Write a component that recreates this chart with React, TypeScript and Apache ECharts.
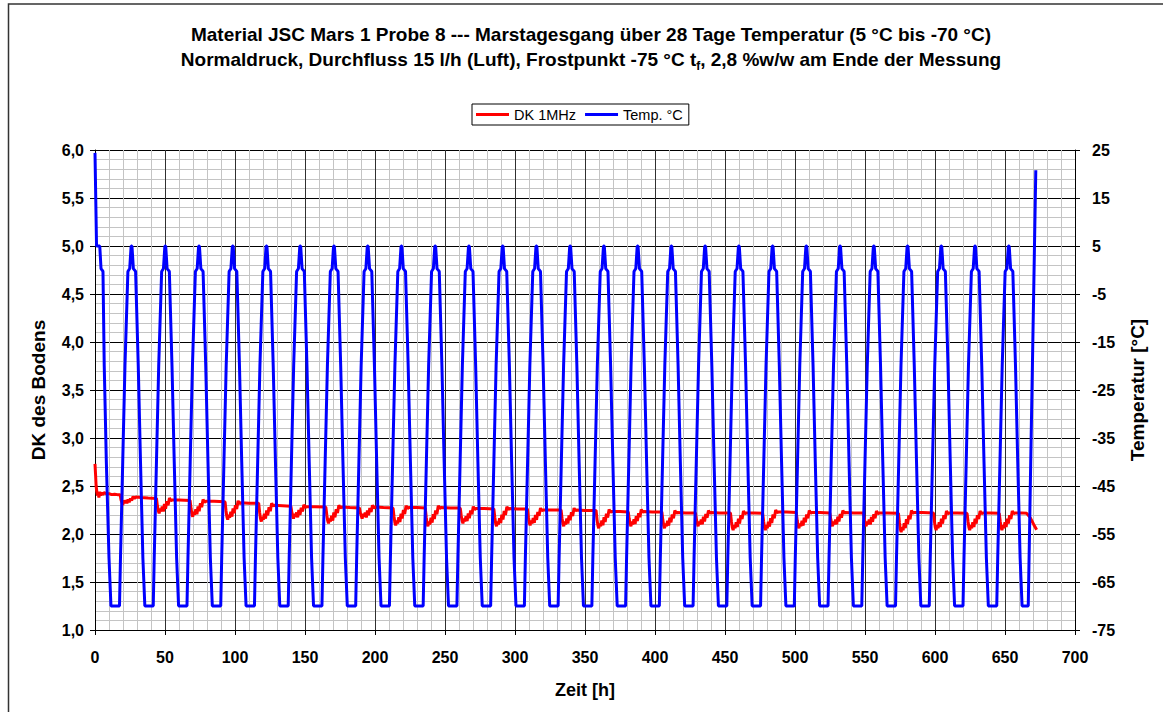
import React, { useEffect, useRef } from "react";
import * as echarts from "echarts";

const FONT = "'Liberation Sans', Arial, sans-serif";

const titleLine1 = "Material JSC Mars 1 Probe 8 --- Marstagesgang über 28 Tage Temperatur (5 °C bis -70 °C)";
const titleLine2 = "Normaldruck, Durchfluss 15 l/h (Luft), Frostpunkt -75 °C t{sub|f}, 2,8 %w/w am Ende der Messung";
const seriesNames = ["DK 1MHz", "Temp. °C"];
const axisNames = ["Zeit [h]", "DK des Bodens", "Temperatur [°C]"];

// DK 1MHz (left axis), [time h, value]
const dkData: number[][] = [
  [0, 2.73], [0.4, 2.62], [0.8, 2.5], [1.3, 2.44], [1.8, 2.4], [2.3, 2.42], [2.8, 2.38], [3.4, 2.44], [4.0, 2.4], [4.6, 2.43], [5.5, 2.41], [6.5, 2.43], [8, 2.42], [10, 2.42], [12, 2.41], [14, 2.415], [16, 2.41],
  [18, 2.41], [18.6, 2.355], [19.2, 2.33], [19.8, 2.3], [20.5, 2.35], [21.2, 2.32], [22.0, 2.35], [22.8, 2.32], [23.6, 2.36], [24.4, 2.33], [25.3, 2.37], [26.2, 2.35], [27.2, 2.39], [28.2, 2.37], [29.2, 2.385], [33, 2.38], [38, 2.375], [43.9, 2.37],
  [44, 2.37], [44.6, 2.29], [45.2, 2.245], [45.8, 2.215], [46.5, 2.265], [47.2, 2.235], [48.0, 2.285], [48.8, 2.235], [49.6, 2.312], [50.4, 2.262], [51.3, 2.34], [52.2, 2.3], [53.2, 2.375], [54.2, 2.345], [55, 2.355], [60, 2.355], [67.9, 2.35],
  [68, 2.35], [68.6, 2.265], [69.2, 2.21], [69.8, 2.18], [70.5, 2.23], [71.2, 2.2], [72.0, 2.256], [72.8, 2.206], [73.6, 2.288], [74.4, 2.238], [75.3, 2.32], [76.2, 2.28], [77.2, 2.36], [78.2, 2.33], [79, 2.34], [85, 2.34], [92.9, 2.335],
  [93, 2.335], [93.6, 2.24], [94.2, 2.18], [94.8, 2.15], [95.5, 2.2], [96.2, 2.17], [97.0, 2.231], [97.8, 2.181], [98.6, 2.266], [99.4, 2.216], [100.3, 2.301], [101.2, 2.261], [102.2, 2.345], [103.2, 2.315], [104, 2.325], [110, 2.32], [116.9, 2.32],
  [117, 2.32], [117.6, 2.225], [118.2, 2.16], [118.8, 2.13], [119.5, 2.18], [120.2, 2.15], [121.0, 2.21], [121.8, 2.16], [122.6, 2.244], [123.4, 2.194], [124.3, 2.278], [125.2, 2.238], [126.2, 2.32], [127.2, 2.29], [128, 2.3], [134, 2.295], [139.9, 2.29],
  [140, 2.29], [140.6, 2.225], [141.2, 2.19], [141.8, 2.16], [142.5, 2.21], [143.2, 2.18], [144.0, 2.224], [144.8, 2.174], [145.6, 2.249], [146.4, 2.199], [147.3, 2.274], [148.2, 2.234], [149.2, 2.305], [150.2, 2.275], [151, 2.285], [157, 2.285], [164.9, 2.28],
  [165, 2.28], [165.6, 2.195], [166.2, 2.14], [166.8, 2.11], [167.5, 2.16], [168.2, 2.13], [169.0, 2.19], [169.8, 2.14], [170.6, 2.224], [171.4, 2.174], [172.3, 2.258], [173.2, 2.218], [174.2, 2.3], [175.2, 2.27], [176, 2.28], [182, 2.275], [188.9, 2.27],
  [189, 2.27], [189.6, 2.215], [190.2, 2.19], [190.8, 2.16], [191.5, 2.21], [192.2, 2.18], [193.0, 2.222], [193.8, 2.172], [194.6, 2.246], [195.4, 2.196], [196.3, 2.27], [197.2, 2.23], [198.2, 2.3], [199.2, 2.27], [200, 2.28], [206, 2.275], [212.9, 2.27],
  [213, 2.27], [213.6, 2.18], [214.2, 2.12], [214.8, 2.09], [215.5, 2.14], [216.2, 2.11], [217.0, 2.175], [217.8, 2.125], [218.6, 2.212], [219.4, 2.162], [220.3, 2.249], [221.2, 2.209], [222.2, 2.295], [223.2, 2.265], [224, 2.275], [230, 2.275], [235.9, 2.27],
  [236, 2.27], [236.6, 2.175], [237.2, 2.11], [237.8, 2.08], [238.5, 2.13], [239.2, 2.1], [240.0, 2.168], [240.8, 2.118], [241.6, 2.207], [242.4, 2.157], [243.3, 2.246], [244.2, 2.206], [245.2, 2.295], [246.2, 2.265], [247, 2.275], [254, 2.27], [260.9, 2.27],
  [261, 2.27], [261.6, 2.19], [262.2, 2.14], [262.8, 2.11], [263.5, 2.16], [264.2, 2.13], [265.0, 2.184], [265.8, 2.134], [266.6, 2.215], [267.4, 2.165], [268.3, 2.246], [269.2, 2.206], [270.2, 2.285], [271.2, 2.255], [272, 2.265], [278, 2.265], [284.9, 2.26],
  [285, 2.26], [285.6, 2.17], [286.2, 2.11], [286.8, 2.08], [287.5, 2.13], [288.2, 2.1], [289.0, 2.165], [289.8, 2.115], [290.6, 2.202], [291.4, 2.152], [292.3, 2.239], [293.2, 2.199], [294.2, 2.285], [295.2, 2.255], [296, 2.265], [302, 2.26], [308.9, 2.26],
  [309, 2.26], [309.6, 2.175], [310.2, 2.12], [310.8, 2.09], [311.5, 2.14], [312.2, 2.11], [313.0, 2.166], [313.8, 2.116], [314.6, 2.198], [315.4, 2.148], [316.3, 2.23], [317.2, 2.19], [318.2, 2.27], [319.2, 2.24], [320, 2.25], [326, 2.25], [332.9, 2.25],
  [333, 2.25], [333.6, 2.165], [334.2, 2.11], [334.8, 2.08], [335.5, 2.13], [336.2, 2.1], [337.0, 2.16], [337.8, 2.11], [338.6, 2.194], [339.4, 2.144], [340.3, 2.228], [341.2, 2.188], [342.2, 2.27], [343.2, 2.24], [344, 2.25], [350, 2.245], [357.9, 2.245],
  [358, 2.245], [358.6, 2.15], [359.2, 2.09], [359.8, 2.06], [360.5, 2.11], [361.2, 2.08], [362.0, 2.141], [362.8, 2.091], [363.6, 2.176], [364.4, 2.126], [365.3, 2.211], [366.2, 2.171], [367.2, 2.255], [368.2, 2.225], [369, 2.235], [375, 2.235], [380.9, 2.23],
  [381, 2.23], [381.6, 2.155], [382.2, 2.11], [382.8, 2.08], [383.5, 2.13], [384.2, 2.1], [385.0, 2.154], [385.8, 2.104], [386.6, 2.185], [387.4, 2.135], [388.3, 2.216], [389.2, 2.176], [390.2, 2.255], [391.2, 2.225], [392, 2.235], [398, 2.23], [404.9, 2.23],
  [405, 2.23], [405.6, 2.145], [406.2, 2.09], [406.8, 2.06], [407.5, 2.11], [408.2, 2.08], [409.0, 2.138], [409.8, 2.088], [410.6, 2.171], [411.4, 2.121], [412.3, 2.204], [413.2, 2.164], [414.2, 2.245], [415.2, 2.215], [416, 2.225], [422, 2.22], [428.9, 2.22],
  [429, 2.22], [429.6, 2.15], [430.2, 2.11], [430.8, 2.08], [431.5, 2.13], [432.2, 2.1], [433.0, 2.151], [433.8, 2.101], [434.6, 2.18], [435.4, 2.13], [436.3, 2.209], [437.2, 2.169], [438.2, 2.245], [439.2, 2.215], [440, 2.225], [446, 2.22], [453.9, 2.22],
  [454, 2.22], [454.6, 2.13], [455.2, 2.07], [455.8, 2.04], [456.5, 2.09], [457.2, 2.06], [458.0, 2.123], [458.8, 2.073], [459.6, 2.159], [460.4, 2.109], [461.3, 2.195], [462.2, 2.155], [463.2, 2.24], [464.2, 2.21], [465, 2.22], [471, 2.22], [476.9, 2.215],
  [477, 2.215], [477.6, 2.13], [478.2, 2.07], [478.8, 2.04], [479.5, 2.09], [480.2, 2.06], [481.0, 2.127], [481.8, 2.077], [482.6, 2.165], [483.4, 2.115], [484.3, 2.203], [485.2, 2.163], [486.2, 2.25], [487.2, 2.22], [488, 2.23], [494, 2.23], [500.9, 2.225],
  [501, 2.225], [501.6, 2.14], [502.2, 2.09], [502.8, 2.06], [503.5, 2.11], [504.2, 2.08], [505.0, 2.138], [505.8, 2.088], [506.6, 2.171], [507.4, 2.121], [508.3, 2.204], [509.2, 2.164], [510.2, 2.245], [511.2, 2.215], [512, 2.225], [518, 2.225], [524.9, 2.22],
  [525, 2.22], [525.6, 2.15], [526.2, 2.11], [526.8, 2.08], [527.5, 2.13], [528.2, 2.1], [529.0, 2.151], [529.8, 2.101], [530.6, 2.18], [531.4, 2.13], [532.3, 2.209], [533.2, 2.169], [534.2, 2.245], [535.2, 2.215], [536, 2.225], [542, 2.22], [548.9, 2.22],
  [549, 2.22], [549.6, 2.15], [550.2, 2.11], [550.8, 2.08], [551.5, 2.13], [552.2, 2.1], [553.0, 2.149], [553.8, 2.099], [554.6, 2.177], [555.4, 2.127], [556.3, 2.205], [557.2, 2.165], [558.2, 2.24], [559.2, 2.21], [560, 2.22], [566, 2.22], [573.9, 2.215],
  [574, 2.215], [574.6, 2.12], [575.2, 2.05], [575.8, 2.02], [576.5, 2.07], [577.2, 2.04], [578.0, 2.112], [578.8, 2.062], [579.6, 2.153], [580.4, 2.103], [581.3, 2.194], [582.2, 2.154], [583.2, 2.245], [584.2, 2.215], [585, 2.225], [591, 2.225], [598.9, 2.22],
  [599, 2.22], [599.6, 2.13], [600.2, 2.07], [600.8, 2.04], [601.5, 2.09], [602.2, 2.06], [603.0, 2.123], [603.8, 2.073], [604.6, 2.159], [605.4, 2.109], [606.3, 2.195], [607.2, 2.155], [608.2, 2.24], [609.2, 2.21], [610, 2.22], [616, 2.22], [622.9, 2.215],
  [623, 2.215], [623.6, 2.13], [624.2, 2.07], [624.8, 2.04], [625.5, 2.09], [626.2, 2.06], [627.0, 2.123], [627.8, 2.073], [628.6, 2.159], [629.4, 2.109], [630.3, 2.195], [631.2, 2.155], [632.2, 2.24], [633.2, 2.21], [634, 2.22], [640, 2.22], [645.9, 2.215],
  [646, 2.215], [646.6, 2.13], [647.2, 2.07], [647.8, 2.04], [648.5, 2.09], [649.2, 2.06], [650.0, 2.123], [650.8, 2.073], [651.6, 2.159], [652.4, 2.109], [653.3, 2.195], [654.2, 2.155], [655.2, 2.24], [656.2, 2.21], [657, 2.22], [662, 2.22], [665.5, 2.215],
  [668, 2.17], [670.5, 2.1], [672.6, 2.045],
];

// Temperature (right axis): start of the run, daily peaks, the profile around each peak, end
const tempStart: number[][] = [[0, 24.4], [1.1, 5], [3.4, 5], [4.3, 0.3], [5.7, -0.3], [6.6, -20], [8.1, -40], [10.0, -60], [11.4, -70]];
const tempPeakTimes = [26.1, 50.2, 74.3, 98.4, 122.5, 146.6, 170.7, 194.8, 218.9, 243.0, 267.1, 291.2, 315.3, 339.4, 363.5, 387.6, 411.7, 435.8, 459.9, 484.0, 508.1, 532.2, 556.3, 580.4, 604.5, 628.6, 652.7];
const tempProfileOffsets = [-8.6, -7.9, -6.3, -4.7, -2.6, -1.3, -0.3, 0.3, 1.3, 2.9, 4.8, 6.4, 8.1, 9.5];
const tempProfileValues = [-70, -60, -40, -20, -0.3, 0.3, 5, 5, 0.3, -0.3, -20, -40, -60, -70];
const tempEnd: number[][] = [[666.6, -70], [672, 20.8]];

const xTicks = { min: 0, max: 700, interval: 50 };
const leftTicks = { min: 1, max: 6, interval: 0.5 };
const rightTicks = { min: -75, max: 25, interval: 10 };

function buildTemp(): number[][] {
  const out: number[][] = tempStart.map((p) => [p[0], p[1]]);
  tempPeakTimes.forEach((pk) => {
    tempProfileOffsets.forEach((o, i) => {
      out.push([+(pk + o).toFixed(2), tempProfileValues[i]]);
    });
  });
  tempEnd.forEach((p) => out.push([p[0], p[1]]));
  return out;
}

export default function App() {
  const ref = useRef<HTMLDivElement>(null);
  useEffect(() => {
    if (!ref.current) return;
    const chart = echarts.init(ref.current, undefined, { renderer: "svg" });
    const labelStyle = { fontFamily: FONT, fontSize: 16, fontWeight: "bold" as const, color: "#000" };
    chart.setOption({
      animation: false,
      backgroundColor: "#fff",
      title: {
        left: 586,
        top: 17,
        textAlign: "center",
        text: titleLine1 + "\n" + titleLine2,
        textStyle: {
          fontFamily: FONT,
          fontSize: 19,
          fontWeight: "bold",
          color: "#000",
          lineHeight: 25,
          rich: {
            sub: { fontFamily: FONT, fontSize: 12, fontWeight: "bold", color: "#000", verticalAlign: "bottom", lineHeight: 25, padding: [10, 0, 0, 0] },
          },
        },
      },
      legend: {
        top: 104,
        left: 472,
        data: seriesNames,
        icon: "rect",
        itemWidth: 33,
        itemHeight: 3,
        itemGap: 9,
        padding: [3, 6, 3, 4],
        borderColor: "#000",
        borderWidth: 1,
        borderRadius: 0,
        textStyle: { fontFamily: FONT, fontSize: 14.5, color: "#000" },
      },
      grid: { left: 95, right: 88, top: 150, bottom: 82 },
      xAxis: {
        type: "value",
        ...xTicks,
        axisLine: { show: true, onZero: false, lineStyle: { color: "#000", width: 1 } },
        axisTick: { show: true, length: 5, lineStyle: { color: "#000" } },
        axisLabel: { ...labelStyle, margin: 19 },
        splitLine: { show: true, lineStyle: { color: "#303030", width: 1 } },
        minorTick: { show: false, splitNumber: 5 },
        minorSplitLine: { show: true, lineStyle: { color: "#c4c4c4", width: 1 } },
      },
      yAxis: [
        {
          type: "value",
          ...leftTicks,
          position: "left",
          axisLine: { show: true, onZero: false, lineStyle: { color: "#000", width: 1 } },
          axisTick: { show: true, length: 5, lineStyle: { color: "#000" } },
          axisLabel: { ...labelStyle, margin: 11, formatter: (v: number) => v.toFixed(1).replace(".", ",") },
          splitLine: { show: true, lineStyle: { color: "#000", width: 1 } },
          minorTick: { show: false, splitNumber: 5 },
          minorSplitLine: { show: true, lineStyle: { color: "#c4c4c4", width: 1 } },
        },
        {
          type: "value",
          ...rightTicks,
          position: "right",
          axisLine: { show: true, onZero: false, lineStyle: { color: "#000", width: 1 } },
          axisTick: { show: true, length: 5, lineStyle: { color: "#000" } },
          axisLabel: { ...labelStyle, margin: 17 },
          splitLine: { show: false },
        },
      ],
      series: [
        {
          name: seriesNames[0],
          type: "line",
          yAxisIndex: 0,
          data: dkData,
          symbol: "none",
          lineStyle: { color: "#ff0000", width: 3 },
          itemStyle: { color: "#ff0000" },
          z: 2,
        },
        {
          name: seriesNames[1],
          type: "line",
          yAxisIndex: 1,
          data: buildTemp(),
          symbol: "none",
          lineStyle: { color: "#0000ff", width: 3 },
          itemStyle: { color: "#0000ff" },
          z: 3,
        },
      ],
      graphic: [
        { type: "rect", shape: { x: 8.5, y: 4, width: 1300, height: 900 }, style: { fill: "none", stroke: "#333", lineWidth: 1.5 }, silent: true },
        { type: "text", x: 585, y: 690, style: { text: axisNames[0], align: "center", verticalAlign: "middle", font: `bold 18px ${FONT}`, fill: "#000" } },
        { type: "text", x: 38, y: 390, rotation: Math.PI / 2, style: { text: axisNames[1], align: "center", verticalAlign: "middle", font: `bold 19px ${FONT}`, fill: "#000" } },
        { type: "text", x: 1137, y: 390, rotation: Math.PI / 2, style: { text: axisNames[2], align: "center", verticalAlign: "middle", font: `bold 19px ${FONT}`, fill: "#000" } },
      ],
    });
    return () => chart.dispose();
  }, []);
  return <div ref={ref} style={{ position: "absolute", left: 0, top: 0, width: 1163, height: 712, background: "#fff" }} />;
}
